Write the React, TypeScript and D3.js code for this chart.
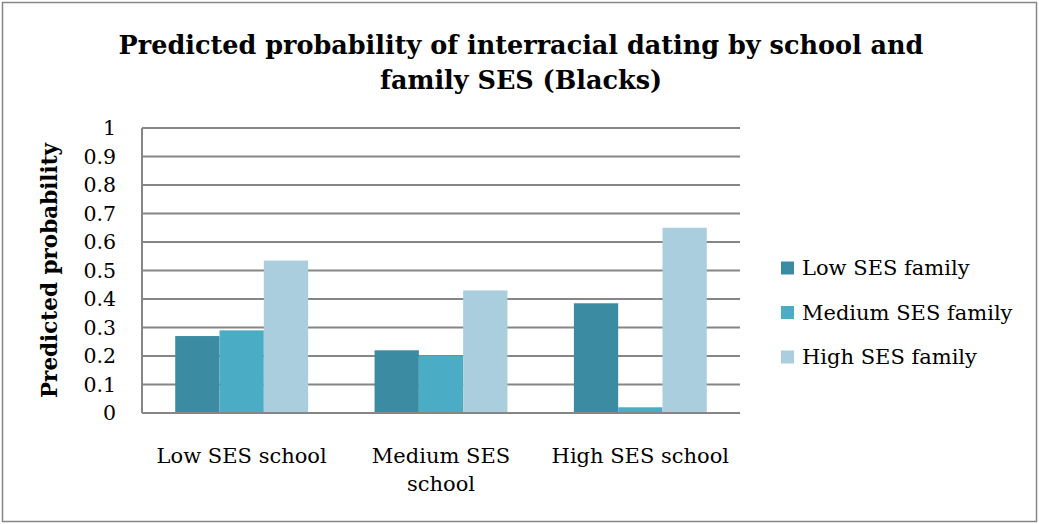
import React from "react";
import * as d3 from "d3";

const categories = [["Low SES school"], ["Medium SES", "school"], ["High SES school"]];
const seriesNames = ["Low SES family", "Medium SES family", "High SES family"];
const lowFamily = [0.27, 0.22, 0.385];
const mediumFamily = [0.29, 0.20, 0.02];
const highFamily = [0.535, 0.43, 0.65];
const yTicks = [0, 0.1, 0.2, 0.3, 0.4, 0.5, 0.6, 0.7, 0.8, 0.9, 1];
const colors = ["#3B8BA2", "#4BACC6", "#AACEDD"];

const W = 1039;
const H = 524;
const FONT = "'DejaVu Serif', 'Liberation Serif', serif";

export default function App() {
  const series = [lowFamily, mediumFamily, highFamily];
  const left = 142;
  const right = 740;
  const top = 128;
  const bottom = 413;

  const x0 = d3
    .scaleBand<number>()
    .domain(d3.range(categories.length))
    .range([left, right])
    .paddingInner(0)
    .paddingOuter(0);
  const groupW = (x0.bandwidth() * 2) / 3;
  const x1 = d3
    .scaleBand<number>()
    .domain(d3.range(series.length))
    .range([0, groupW]);
  const y = d3.scaleLinear().domain([0, 1]).range([bottom, top]);

  return (
    <svg width={W} height={H} style={{ position: "absolute", left: 0, top: 0, display: "block" }}>
      <rect x={0} y={0} width={W} height={H} fill="#fff" />
      <rect x={2.5} y={2.5} width={W - 5} height={H - 5} fill="none" stroke="#868686" strokeWidth={1.5} />
      <text x={521} y={54} textAnchor="middle" fontFamily={FONT} fontWeight="bold" fontSize={25.5} fill="#000">
        Predicted probability of interracial dating by school and
      </text>
      <text x={521} y={89} textAnchor="middle" fontFamily={FONT} fontWeight="bold" fontSize={25.5} fill="#000">
        family SES (Blacks)
      </text>

      {yTicks.map((t) => (
        <g key={t}>
          <line x1={left} x2={right} y1={y(t)} y2={y(t)} stroke="#868686" strokeWidth={1.8} />
          <text x={116} y={y(t)} dy="0.35em" textAnchor="end" fontFamily={FONT} fontSize={20.5} fill="#000">
            {d3.format("")(t)}
          </text>
        </g>
      ))}
      <line x1={left} x2={left} y1={top} y2={bottom} stroke="#868686" strokeWidth={2} />

      {series.map((vals, si) =>
        vals.map((v, ci) => (
          <rect
            key={`${si}-${ci}`}
            x={(x0(ci) as number) + (x0.bandwidth() - groupW) / 2 + (x1(si) as number)}
            y={y(v)}
            width={x1.bandwidth()}
            height={bottom - y(v)}
            fill={colors[si]}
          />
        ))
      )}
      <line x1={left} x2={right} y1={bottom} y2={bottom} stroke="#868686" strokeWidth={2} />

      {categories.map((lines, ci) => (
        <text
          key={ci}
          x={(x0(ci) as number) + x0.bandwidth() / 2}
          y={463}
          textAnchor="middle"
          fontFamily={FONT}
          fontSize={21}
          fill="#000"
        >
          {lines.map((l, li) => (
            <tspan key={li} x={(x0(ci) as number) + x0.bandwidth() / 2} dy={li === 0 ? 0 : 28}>
              {l}
            </tspan>
          ))}
        </text>
      ))}

      <text
        transform={`translate(57,${(top + bottom) / 2}) rotate(-90)`}
        textAnchor="middle"
        fontFamily={FONT}
        fontWeight="bold"
        fontSize={21.5}
        fill="#000"
      >
        Predicted probability
      </text>

      {seriesNames.map((name, i) => (
        <g key={name} transform={`translate(781,${268 + i * 44.5})`}>
          <rect x={0} y={-6.5} width={13} height={13} fill={colors[i]} />
          <text x={21} y={0} dy="0.35em" fontFamily={FONT} fontSize={21} fill="#000">
            {name}
          </text>
        </g>
      ))}
    </svg>
  );
}
